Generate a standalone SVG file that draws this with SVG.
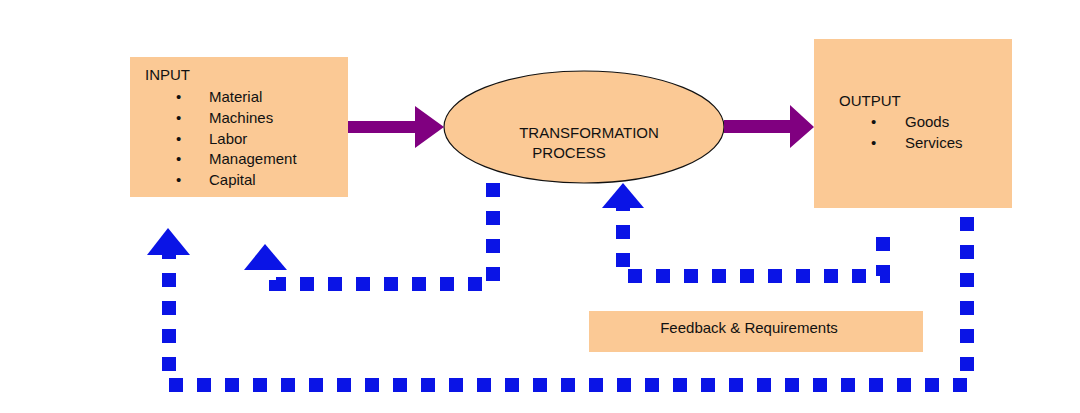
<svg xmlns="http://www.w3.org/2000/svg" width="1080" height="413" viewBox="0 0 1080 413">
<style>
.box{fill:#FBC995}
text{font-family:"Liberation Sans",Arial,sans-serif;font-size:15px;fill:#111}
.dot{fill:none;stroke:#0A14E6;stroke-width:14;stroke-dasharray:14 14}
.head{fill:#0A14E6}
.pur{fill:#800080}
</style>
<rect width="1080" height="413" fill="#fff"/>
<g id="input">
<rect class="box" x="130" y="57" width="218" height="140"/>
<text x="145" y="80">INPUT</text>
<text x="176" y="102">•</text><text x="209" y="102">Material</text>
<text x="176" y="123">•</text><text x="209" y="123">Machines</text>
<text x="176" y="144">•</text><text x="209" y="144">Labor</text>
<text x="176" y="164">•</text><text x="209" y="164">Management</text>
<text x="176" y="185">•</text><text x="209" y="185">Capital</text>
</g>
<g id="process">
<ellipse class="box" cx="584" cy="127" rx="140" ry="56" stroke="#111" stroke-width="1.2"/>
<text x="589" y="138" text-anchor="middle" font-size="14">TRANSFORMATION</text>
<text x="569" y="158" text-anchor="middle" font-size="14">PROCESS</text>
</g>
<g id="output">
<rect class="box" x="814" y="39" width="198" height="169"/>
<text x="839" y="106">OUTPUT</text>
<text x="871" y="127">•</text><text x="905" y="127">Goods</text>
<text x="871" y="148">•</text><text x="905" y="148">Services</text>
</g>
<g id="feedback">
<rect class="box" x="589" y="311" width="334" height="41"/>
<text x="749" y="333" text-anchor="middle">Feedback &amp; Requirements</text>
</g>
<g id="connectors">
<polygon class="pur" points="348,121 415,121 415,106 444,127 415,148 415,133 348,133"/>
<polygon class="pur" points="724,120 790,120 790,105 814,127 790,148 790,133 724,133"/>
<path class="dot" d="M493,183 V284 H276 V270"/>
<polygon class="head" points="265,244 287,270 244,270"/>
<path class="dot" d="M883,237 V276 H623 V208"/>
<polygon class="head" points="623,183 644,208 602,208"/>
<path class="dot" d="M967,217 V385 H169 V255"/>
<polygon class="head" points="168,228 190,255 147,255"/>
</g>
</svg>
